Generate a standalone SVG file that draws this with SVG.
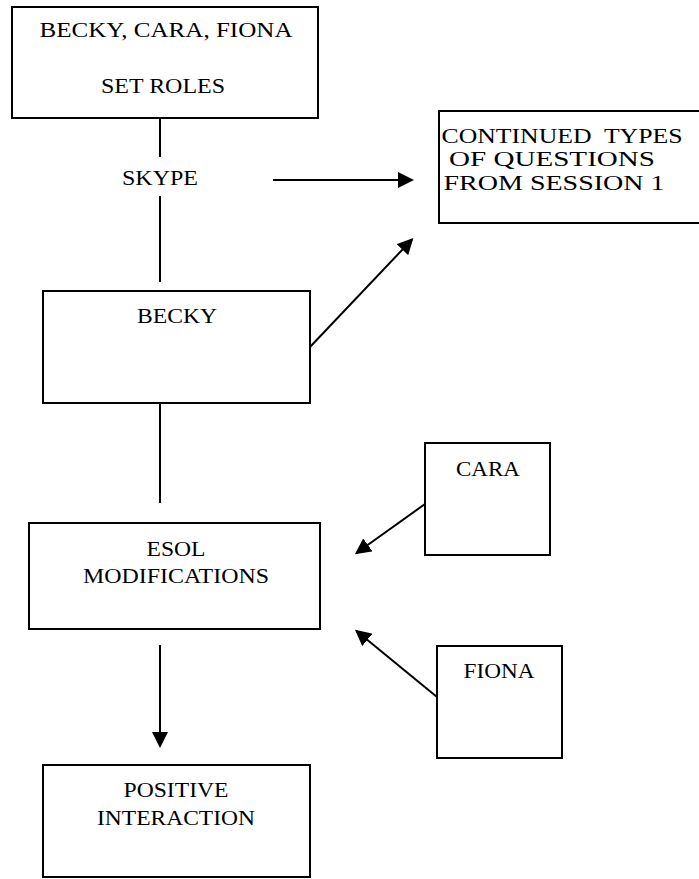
<svg xmlns="http://www.w3.org/2000/svg" width="699" height="879" viewBox="0 0 699 879">
<defs>
<marker id="ah" markerUnits="userSpaceOnUse" markerWidth="16" markerHeight="16" refX="14" refY="8" orient="auto">
<path d="M0,0 L16,8 L0,16 z" fill="#000"/>
</marker>
<style>
.box{fill:#fff;stroke:#000;stroke-width:2}
.t{font-family:'Liberation Serif','Times New Roman',serif;font-size:22px;fill:#000;text-anchor:middle;white-space:pre}
.ln{stroke:#000;stroke-width:2;fill:none}
.ar{stroke:#000;stroke-width:2;fill:none;marker-end:url(#ah)}
</style>
</defs>
<rect width="699" height="879" fill="#fff"/>
<g id="connectors" font-family="Liberation Serif, serif">
<line class="ln" x1="160" y1="118" x2="160" y2="157"/>
<line class="ln" x1="160" y1="196" x2="160" y2="282"/>
<line class="ar" x1="273" y1="180" x2="412" y2="180"/>
<line class="ar" x1="310" y1="347" x2="412" y2="239.5"/>
<line class="ln" x1="160" y1="403" x2="160" y2="503"/>
<line class="ar" x1="425" y1="504" x2="356.5" y2="553"/>
<line class="ar" x1="437" y1="697" x2="356.5" y2="631"/>
<line class="ar" x1="160" y1="645" x2="160" y2="746"/>
<text class="t" x="160" y="185" textLength="76" lengthAdjust="spacingAndGlyphs">SKYPE</text>
</g>
<g id="set-roles" font-family="Liberation Serif, serif">
<rect class="box" x="12" y="7" width="306" height="111"/>
<text class="t" x="166" y="37" textLength="253" lengthAdjust="spacingAndGlyphs">BECKY, CARA, FIONA</text>
<text class="t" x="163" y="93" textLength="124" lengthAdjust="spacingAndGlyphs">SET ROLES</text>
</g>
<g id="continued" font-family="Liberation Serif, serif">
<rect class="box" x="439" y="111" width="280" height="112"/>
<text class="t" x="562" y="143" textLength="241" lengthAdjust="spacingAndGlyphs">CONTINUED  TYPES</text>
<text class="t" x="552" y="166" textLength="206" lengthAdjust="spacingAndGlyphs">OF QUESTIONS</text>
<text class="t" x="554" y="190" textLength="221" lengthAdjust="spacingAndGlyphs">FROM SESSION 1</text>
</g>
<g id="becky" font-family="Liberation Serif, serif">
<rect class="box" x="43" y="291" width="267" height="112"/>
<text class="t" x="177" y="323" textLength="80" lengthAdjust="spacingAndGlyphs">BECKY</text>
</g>
<g id="esol" font-family="Liberation Serif, serif">
<rect class="box" x="29" y="523" width="291" height="106"/>
<text class="t" x="176" y="556" textLength="59" lengthAdjust="spacingAndGlyphs">ESOL</text>
<text class="t" x="176" y="583" textLength="186" lengthAdjust="spacingAndGlyphs">MODIFICATIONS</text>
</g>
<g id="cara" font-family="Liberation Serif, serif">
<rect class="box" x="425" y="443" width="125" height="112"/>
<text class="t" x="488" y="476" textLength="64" lengthAdjust="spacingAndGlyphs">CARA</text>
</g>
<g id="fiona" font-family="Liberation Serif, serif">
<rect class="box" x="437" y="646" width="125" height="112"/>
<text class="t" x="499" y="678" textLength="71" lengthAdjust="spacingAndGlyphs">FIONA</text>
</g>
<g id="positive" font-family="Liberation Serif, serif">
<rect class="box" x="43" y="765" width="267" height="112"/>
<text class="t" x="176" y="797" textLength="105" lengthAdjust="spacingAndGlyphs">POSITIVE</text>
<text class="t" x="176" y="825" textLength="158" lengthAdjust="spacingAndGlyphs">INTERACTION</text>
</g>
</svg>
